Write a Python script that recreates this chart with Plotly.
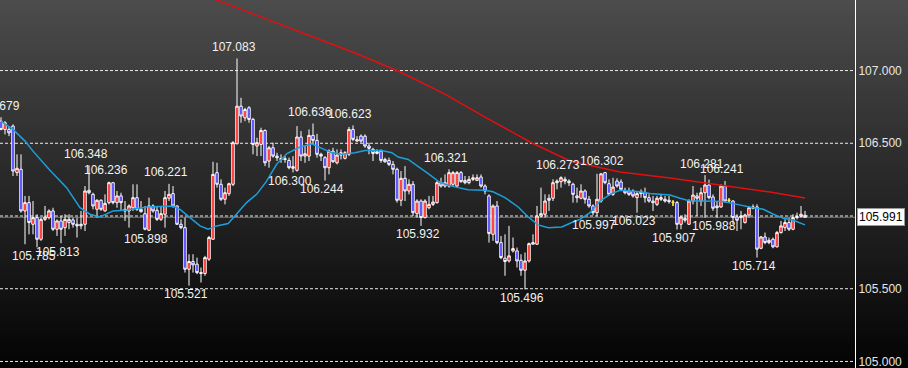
import plotly.graph_objects as go

# ---------------- data ----------------
opens = [106.652, 106.595, 106.595, 106.618, 106.298, 106.321, 106.035, 106.092, 105.943, 105.989,
         105.840, 105.977, 105.989, 106.035, 105.909, 105.966, 105.920, 105.955, 105.973, 105.943,
         105.932, 105.943, 106.177, 106.149, 106.046, 106.108, 106.035, 106.092, 106.229, 106.092,
         106.138, 106.046, 106.035, 106.057, 106.126, 106.046, 106.016, 105.902, 106.069, 106.039,
         105.977, 106.012, 106.122, 106.154, 106.069, 105.943, 105.920, 105.634, 105.687, 105.669,
         105.611, 105.605, 105.703, 105.840, 106.298, 106.218, 106.115, 106.154, 106.218, 106.497,
         106.755, 106.675, 106.744, 106.664, 106.481, 106.492, 106.588, 106.378, 106.469, 106.412,
         106.389, 106.394, 106.382, 106.328, 106.314, 106.543, 106.412, 106.412, 106.554, 106.520,
         106.424, 106.401, 106.332, 106.446, 106.366, 106.419, 106.396, 106.424, 106.595, 106.515,
         106.549, 106.549, 106.481, 106.458, 106.430, 106.446, 106.389, 106.382, 106.355, 106.321,
         106.108, 106.259, 106.172, 106.218, 106.016, 106.103, 105.989, 106.057, 106.080, 106.092,
         106.229, 106.206, 106.206, 106.218, 106.206, 106.298, 106.245, 106.229, 106.252, 106.245,
         106.268, 106.206, 106.138, 105.874, 106.069, 105.817, 105.710, 105.691, 105.760, 105.760,
         105.696, 105.627, 105.691, 105.806, 105.806, 106.000, 106.012, 106.122, 106.122, 106.229,
         106.236, 106.252, 106.240, 106.218, 106.138, 106.122, 106.172, 106.115, 106.069, 106.023,
         106.103, 106.298, 106.222, 106.149, 106.240, 106.234, 106.177, 106.172, 106.172, 106.126,
         106.154, 106.160, 106.126, 106.103, 106.080, 106.115, 106.115, 106.108, 106.094, 106.092,
         105.943, 105.984, 105.943, 106.103, 106.138, 106.103, 106.160, 106.213, 106.131, 106.069,
         106.062, 106.206, 106.108, 106.103, 105.993, 105.989, 105.955, 106.007, 106.053, 106.062,
         105.778, 105.856, 105.817, 105.840, 105.788, 105.886, 105.920, 105.955, 105.909, 105.989,
         105.998, 106.005]
highs = [106.679, 106.652, 106.618, 106.630, 106.424, 106.424, 106.138, 106.138, 106.103, 106.012,
         105.989, 106.069, 106.046, 106.057, 105.977, 106.000, 106.012, 106.012, 105.989, 105.989,
         106.035, 106.206, 106.348, 106.160, 106.115, 106.115, 106.149, 106.236, 106.232, 106.172,
         106.160, 106.103, 106.080, 106.218, 106.218, 106.103, 106.069, 106.126, 106.080, 106.069,
         106.069, 106.172, 106.221, 106.206, 106.072, 105.977, 105.989, 105.737, 105.737, 105.714,
         105.646, 105.726, 105.863, 106.373, 106.366, 106.252, 106.195, 106.229, 106.515, 107.083,
         106.813, 106.744, 106.755, 106.675, 106.538, 106.607, 106.595, 106.481, 106.504, 106.435,
         106.424, 106.412, 106.401, 106.412, 106.618, 106.584, 106.481, 106.595, 106.636, 106.565,
         106.435, 106.412, 106.458, 106.469, 106.458, 106.458, 106.446, 106.612, 106.623, 106.549,
         106.561, 106.561, 106.504, 106.469, 106.458, 106.458, 106.401, 106.401, 106.378, 106.332,
         106.309, 106.343, 106.252, 106.240, 106.115, 106.115, 106.115, 106.138, 106.138, 106.240,
         106.263, 106.286, 106.321, 106.309, 106.309, 106.309, 106.275, 106.275, 106.286, 106.286,
         106.286, 106.218, 106.149, 106.080, 106.103, 105.863, 105.874, 105.932, 105.852, 105.783,
         105.737, 105.749, 105.817, 105.874, 106.069, 106.195, 106.149, 106.149, 106.252, 106.252,
         106.273, 106.270, 106.252, 106.229, 106.195, 106.218, 106.183, 106.138, 106.080, 106.290,
         106.295, 106.302, 106.252, 106.263, 106.259, 106.252, 106.195, 106.195, 106.183, 106.172,
         106.183, 106.195, 106.149, 106.138, 106.138, 106.149, 106.138, 106.138, 106.108, 106.103,
         106.000, 106.012, 106.115, 106.206, 106.160, 106.195, 106.281, 106.250, 106.149, 106.103,
         106.218, 106.241, 106.122, 106.108, 106.012, 106.035, 106.016, 106.069, 106.080, 106.080,
         105.863, 105.886, 105.852, 105.852, 105.897, 105.966, 105.977, 105.989, 106.012, 106.023,
         106.069, 106.035]
lows = [106.590, 106.561, 106.549, 106.275, 106.275, 106.023, 105.806, 105.874, 105.874, 105.785,
        105.829, 105.966, 105.977, 105.897, 105.863, 105.813, 105.863, 105.909, 105.920, 105.852,
        105.909, 105.897, 106.149, 106.046, 105.989, 106.035, 106.030, 106.080, 106.080, 106.057,
        106.035, 105.966, 105.920, 106.035, 106.035, 106.023, 105.902, 105.898, 106.023, 105.966,
        105.966, 105.920, 106.103, 106.057, 105.939, 105.909, 105.611, 105.521, 105.611, 105.600,
        105.543, 105.589, 105.691, 105.838, 106.195, 106.103, 106.080, 106.138, 106.206, 106.492,
        106.641, 106.652, 106.641, 106.424, 106.412, 106.412, 106.343, 106.332, 106.401, 106.378,
        106.366, 106.366, 106.321, 106.300, 106.305, 106.378, 106.366, 106.378, 106.492, 106.401,
        106.378, 106.244, 106.286, 106.366, 106.355, 106.389, 106.389, 106.412, 106.515, 106.510,
        106.504, 106.469, 106.424, 106.378, 106.424, 106.366, 106.366, 106.343, 106.286, 106.092,
        106.069, 106.103, 106.149, 106.000, 105.989, 105.932, 105.984, 106.046, 106.069, 106.085,
        106.195, 106.195, 106.195, 106.206, 106.195, 106.229, 106.218, 106.218, 106.240, 106.240,
        106.195, 106.149, 105.817, 105.829, 105.806, 105.703, 105.589, 105.680, 105.749, 105.646,
        105.589, 105.496, 105.680, 105.806, 105.801, 105.989, 105.989, 106.035, 106.103, 106.183,
        106.195, 106.218, 106.206, 106.092, 106.092, 106.115, 106.085, 106.057, 106.005, 105.997,
        106.092, 106.218, 106.138, 106.138, 106.195, 106.172, 106.149, 106.138, 106.126, 106.023,
        106.126, 106.092, 106.092, 106.035, 106.069, 106.103, 106.092, 106.085, 106.069, 105.907,
        105.909, 105.955, 105.939, 106.080, 106.000, 106.069, 105.989, 106.115, 106.035, 105.988,
        106.057, 106.092, 106.096, 105.943, 105.897, 105.909, 105.948, 105.989, 106.046, 105.714,
        105.772, 105.806, 105.806, 105.778, 105.783, 105.879, 105.897, 105.897, 105.902, 105.977,
        105.989, 105.989]
closes = [106.595, 106.641, 106.572, 106.309, 106.328, 106.035, 106.092, 105.955, 105.989, 105.840,
          105.977, 105.993, 106.035, 105.909, 105.966, 105.909, 105.977, 105.977, 105.943, 105.932,
          105.943, 106.172, 106.160, 106.069, 106.108, 106.046, 106.087, 106.229, 106.092, 106.138,
          106.092, 106.035, 106.069, 106.126, 106.046, 106.030, 105.909, 106.069, 106.035, 105.977,
          106.016, 106.126, 106.149, 106.069, 105.943, 105.920, 105.634, 105.687, 105.664, 105.611,
          105.605, 105.714, 105.852, 106.286, 106.218, 106.115, 106.160, 106.222, 106.504, 106.755,
          106.687, 106.732, 106.664, 106.492, 106.504, 106.588, 106.366, 106.469, 106.412, 106.401,
          106.394, 106.389, 106.332, 106.339, 106.543, 106.412, 106.428, 106.554, 106.520, 106.424,
          106.412, 106.332, 106.446, 106.373, 106.419, 106.435, 106.435, 106.595, 106.527, 106.524,
          106.515, 106.481, 106.465, 106.430, 106.442, 106.382, 106.373, 106.355, 106.321, 106.108,
          106.259, 106.172, 106.218, 106.023, 106.103, 105.989, 106.103, 106.080, 106.096, 106.229,
          106.206, 106.229, 106.298, 106.298, 106.298, 106.236, 106.229, 106.252, 106.263, 106.263,
          106.206, 106.172, 105.879, 106.069, 105.817, 105.714, 105.687, 105.726, 105.776, 105.691,
          105.627, 105.691, 105.810, 105.817, 106.000, 106.016, 106.103, 106.108, 106.229, 106.240,
          106.263, 106.240, 106.229, 106.149, 106.126, 106.172, 106.115, 106.069, 106.023, 106.115,
          106.290, 106.229, 106.149, 106.199, 106.206, 106.183, 106.160, 106.149, 106.138, 106.154,
          106.167, 106.126, 106.103, 106.092, 106.122, 106.126, 106.103, 106.099, 106.094, 105.943,
          105.993, 105.971, 106.103, 106.144, 106.122, 106.160, 106.213, 106.126, 106.053, 106.057,
          106.206, 106.103, 106.108, 105.989, 105.971, 106.000, 106.007, 106.057, 106.062, 105.772,
          105.856, 105.817, 105.833, 105.788, 105.886, 105.932, 105.955, 105.909, 105.989, 105.996,
          106.012, 105.991]

# short moving average (blue), sampled along the line
ma_short_x = [0, 3, 6, 8, 12, 16.4, 19.75, 22.25, 24.75, 28, 31.5, 36.5, 43, 44.75, 47.25, 49.75,
              51.8, 53.9, 56.8, 58.9, 61.4, 63.9, 66.4, 68.9, 71.4, 74.3, 77.7, 80.2, 82.7, 85.2,
              88.5, 91, 95.2, 97.7, 99.3, 101.8, 104.3, 106.8, 109.3, 111.8, 114.3, 116.8, 121, 123,
              126, 129.3, 131.8, 134.3, 136.8, 140.2, 142.7, 144.75, 147.25, 149.75, 152.25, 154.75,
              157.25, 159.75, 162.25, 164.75, 167.25, 169.75, 172.25, 175.6, 180.6, 183.1, 185.6,
              188.1, 190.6, 193.1, 195.6, 198.1, 201]
ma_short_y = [106.652, 106.595, 106.515, 106.446, 106.321, 106.195, 106.057, 106.012, 105.993, 106.035,
              106.042, 106.062, 106.069, 106.046, 105.989, 105.932, 105.909, 105.932, 105.948, 106.012,
              106.092, 106.149, 106.240, 106.355, 106.428, 106.469, 106.497, 106.465, 106.435, 106.424,
              106.435, 106.451, 106.451, 106.435, 106.405, 106.389, 106.343, 106.291, 106.240, 106.211,
              106.195, 106.181, 106.177, 106.167, 106.126, 106.062, 105.993, 105.939, 105.920, 105.925,
              105.955, 105.977, 106.023, 106.103, 106.149, 106.177, 106.172, 106.167, 106.154, 106.149,
              106.144, 106.122, 106.103, 106.103, 106.099, 106.085, 106.069, 106.057, 106.046, 106.012,
              105.984, 105.971, 105.939]

# long moving average (red)
ma_long_x = [51, 57.25, 79.75, 89.75, 99.25, 111, 121, 132.75, 142.25, 154.75, 167.25, 179.75, 192.25, 201]
ma_long_y = [107.516, 107.450, 107.210, 107.107, 106.997, 106.838, 106.680, 106.502, 106.378, 106.302,
             106.261, 106.213, 106.165, 106.124]

high_label_idx = [0, 22, 27, 42, 59, 78, 88, 112, 140, 151, 176, 181]
low_label_idx = [9, 15, 37, 47, 73, 81, 105, 131, 149, 159, 169, 179, 189]

tick_vals = [105.0, 105.5, 106.0, 106.5, 107.0]
tick_text = ['105.000', '105.500', '', '106.500', '107.000']

# ---------------- figure ----------------
idx = list(range(len(closes)))
fig = go.Figure()

fig.add_trace(go.Candlestick(
    x=idx, open=opens, high=highs, low=lows, close=closes,
    increasing=dict(fillcolor='#ff0000', line=dict(color='#ffffff', width=1)),
    decreasing=dict(fillcolor='#2a1cff', line=dict(color='#ffffff', width=1)),
    whiskerwidth=0, hoverinfo='skip', showlegend=False))

# doji candles (open == close) drawn in yellow
dx, dy = [], []
for i in idx:
    if opens[i] == closes[i]:
        dx += [i, i, None]
        dy += [lows[i], highs[i], None]
fig.add_trace(go.Scatter(x=dx, y=dy, mode='lines', line=dict(color='#ffe600', width=1.5),
                         hoverinfo='skip', showlegend=False))

fig.add_trace(go.Scatter(x=ma_short_x, y=ma_short_y, mode='lines',
                         line=dict(color='#1d9fdc', width=1.5), hoverinfo='skip', showlegend=False))
fig.add_trace(go.Scatter(x=ma_long_x, y=ma_long_y, mode='lines',
                         line=dict(color='#e01010', width=1.5), hoverinfo='skip', showlegend=False))

# background gradient
shapes = []
n = 92
for k in range(n):
    t = (k + 0.5) / n
    v = int(round(76 - 73 * t))
    shapes.append(dict(type='rect', xref='paper', yref='paper', x0=-0.01, x1=1.1,
                       y0=1 - (k + 1) / n - 0.003, y1=1 - k / n,
                       fillcolor=f'rgb({v},{v},{v})', line=dict(width=0), layer='below'))
# dashed grid lines at the tick levels
for tv in tick_vals:
    shapes.append(dict(type='line', xref='paper', yref='y', x0=0, x1=1, y0=tv, y1=tv,
                       line=dict(color='#ececec', width=1, dash='3px,2px'), layer='below'))
# current price line
shapes.append(dict(type='line', xref='paper', yref='y', x0=0, x1=1, y0=closes[-1], y1=closes[-1],
                   line=dict(color='rgba(190,190,190,0.55)', width=1), layer='below'))

annotations = []
lab_font = dict(family='Liberation Sans, Arial, sans-serif', size=12, color='#f2f2f2')
for i in high_label_idx:
    annotations.append(dict(x=i, y=highs[i], text=f'{highs[i]:.3f}', showarrow=False,
                            xanchor='center', yanchor='middle', xshift=-3.5, yshift=11.5,
                            font=lab_font))
for i in low_label_idx:
    annotations.append(dict(x=i, y=lows[i], text=f'{lows[i]:.3f}', showarrow=False,
                            xanchor='center', yanchor='middle', xshift=-3.5, yshift=-8.5,
                            font=lab_font))
annotations.append(dict(xref='paper', x=1.0025, yref='y', y=closes[-1], text=f'{closes[-1]:.3f}',
                        showarrow=False, xanchor='left', yanchor='middle',
                        bgcolor='#ffffff', bordercolor='#9a9a9a', borderwidth=1, borderpad=1,
                        font=dict(family='Liberation Sans, Arial, sans-serif', size=12, color='#000000')))

fig.update_layout(
    width=908, height=368,
    margin=dict(l=0, r=53, t=0, b=0),
    paper_bgcolor='#000000', plot_bgcolor='rgba(0,0,0,0)',
    showlegend=False, hovermode=False, boxgap=0.12,
    shapes=shapes, annotations=annotations,
    xaxis=dict(range=[-0.25, 213.5], visible=False, rangeslider=dict(visible=False), fixedrange=True),
    yaxis=dict(range=[104.955, 107.485], side='right', tickmode='array',
               tickvals=tick_vals, ticktext=tick_text, ticklabeloverflow='allow',
               showgrid=False,
               showline=True, linecolor='#ffffff', linewidth=1, zeroline=False,
               ticks='', tickfont=dict(family='Liberation Sans, Arial, sans-serif', size=12, color='#e6e6e6'),
               fixedrange=True),
)

fig.write_html('out.html', config={'displayModeBar': False},
               post_script="document.body.style.margin='0';document.body.style.overflow='hidden';")
